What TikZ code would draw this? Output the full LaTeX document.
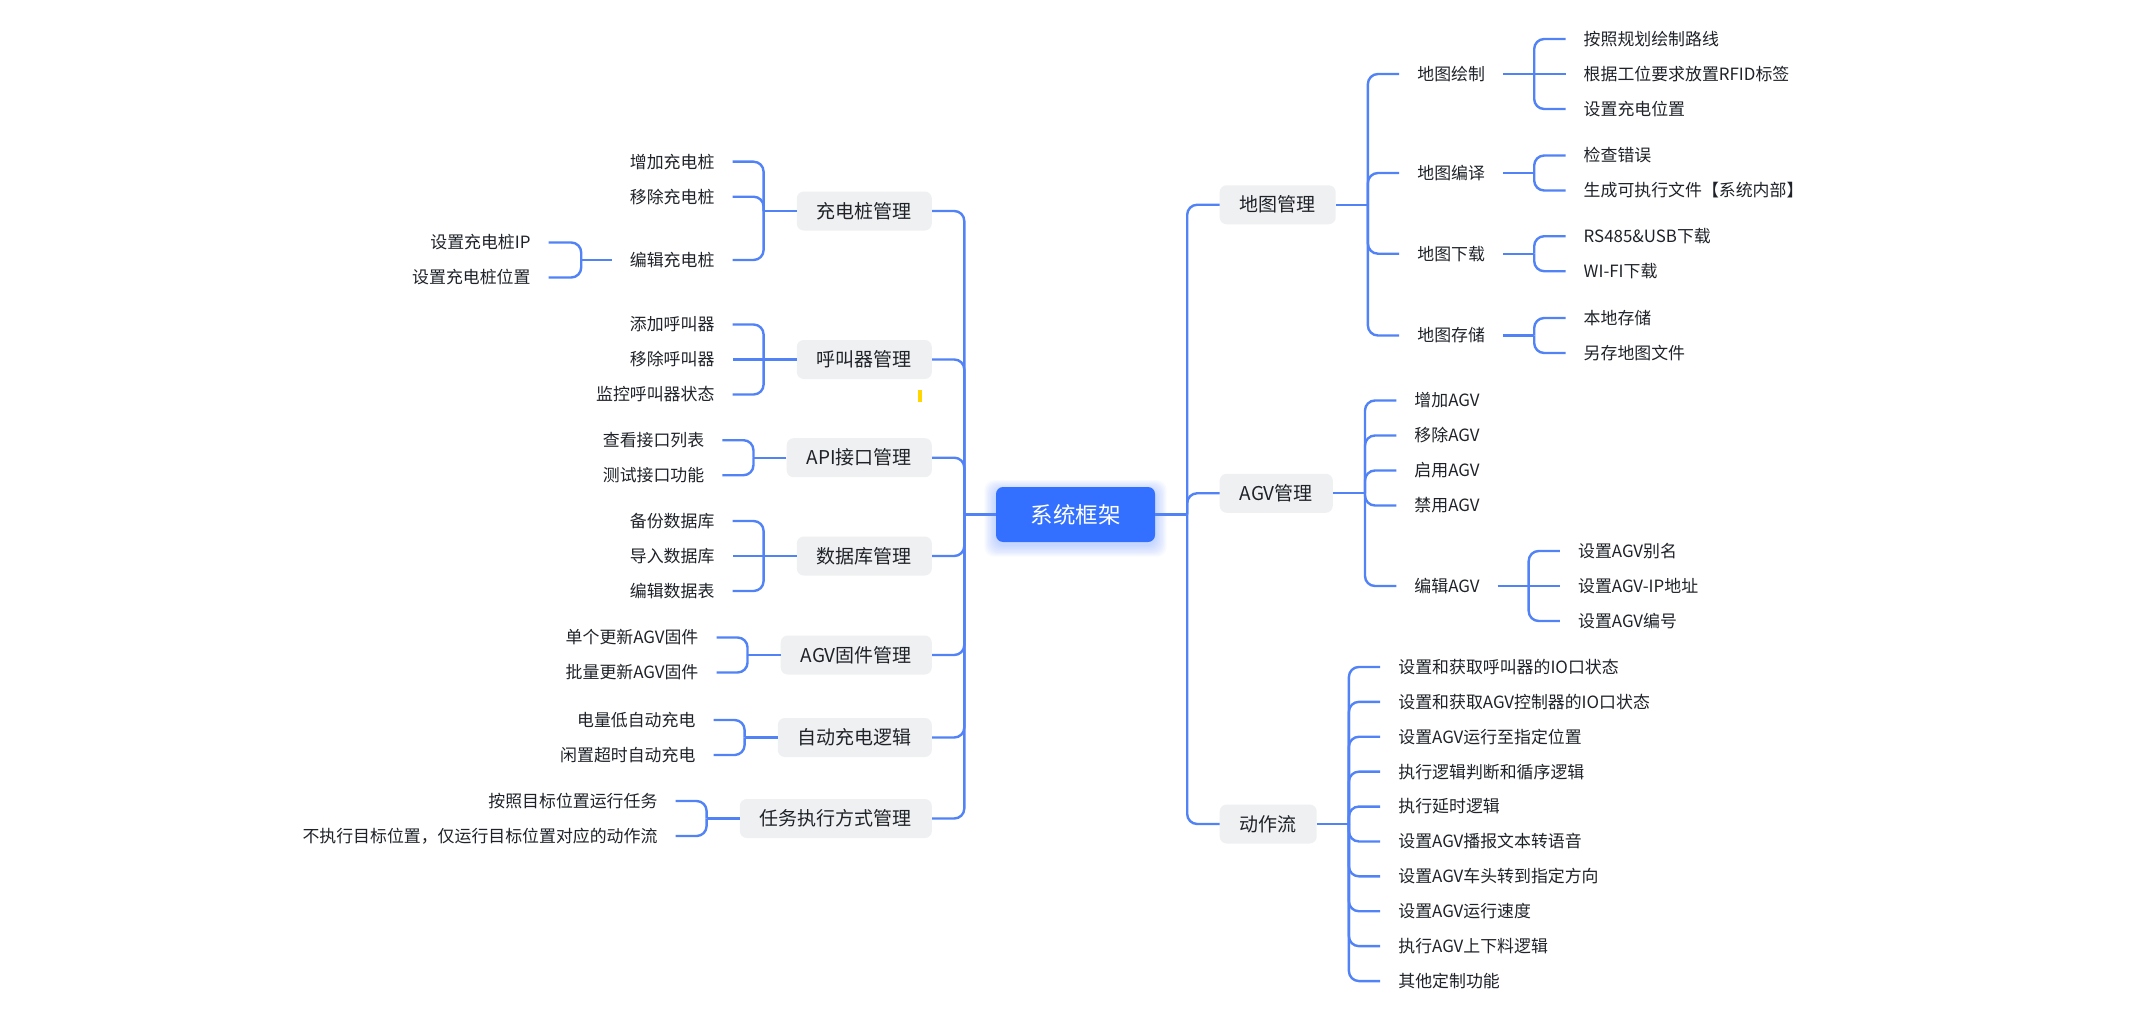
\documentclass[tikz,border=0pt]{standalone}
\usepackage{fontspec}
\setmainfont{Noto Sans CJK SC}
\usetikzlibrary{calc}
\definecolor{lineblue}{RGB}{82,131,246}
\definecolor{rootblue}{RGB}{51,112,255}
\definecolor{boxgray}{RGB}{239,240,241}
\definecolor{txt}{RGB}{31,35,41}
\definecolor{marky}{RGB}{255,214,0}
\begin{document}
\begin{tikzpicture}[x=1pt,y=-1pt,
  conn/.style={draw=lineblue,line width=2.4pt,rounded corners=10pt},
  catbox/.style={fill=boxgray,rounded corners=7pt,inner xsep=20pt,inner ysep=0pt,minimum height=39pt,text=txt,font=\fontsize{19}{23}\selectfont},
  rootbox/.style={fill=rootblue,text=white,rounded corners=7pt,minimum width=159pt,minimum height=55pt,inner sep=0pt,font=\fontsize{22.5}{26}\selectfont},
  leaf/.style={inner xsep=18pt,inner ysep=2pt,text=txt,font=\fontsize{16.9}{20}\selectfont},
  leafL/.style={leaf,anchor=east},
  leafR/.style={leaf,anchor=west},
]
\fill[white] (0,0) rectangle (2139,1014);
\useasboundingbox (0,0) rectangle (2139,1014);

% glow of the root
\foreach \i in {1,...,9}
  \fill[rootblue,opacity=0.03,rounded corners=10pt] (996-\i*1.3,487-\i*1.1+3) rectangle (1155+\i*1.3,542+\i*1.3+3);

\node[rootbox] (root) at (1075.5,514.5) {系统框架};
\coordinate (jL) at ([xshift=-31.5pt]root.west);
\coordinate (jR) at ([xshift=32pt]root.east);
\draw[conn] (root.west) -- (jL);
\draw[conn] (root.east) -- (jR);

% ---------------- left categories
\node[catbox,anchor=east] (c1) at (932,211) {充电桩管理};
\node[catbox,anchor=east] (c2) at (932,359.5) {呼叫器管理};
\node[catbox,anchor=east] (c3) at (932,457.7) {API接口管理};
\node[catbox,anchor=east] (c4) at (932,556) {数据库管理};
\node[catbox,anchor=east] (c5) at (932,655) {AGV固件管理};
\node[catbox,anchor=east] (c6) at (932,737.5) {自动充电逻辑};
\node[catbox,anchor=east] (c7) at (932,818.5) {任务执行方式管理};
\foreach \n in {c1,c2,c3,c4,c5,c6,c7} \draw[conn] (jL) |- (\n.east);

% group 1
\coordinate (b1) at ([xshift=-33pt]c1.west);
\node[leafL] (l1a) at ([xshift=-31pt,yshift=49.3pt]b1) {增加充电桩};
\node[leafL] (l1b) at ([xshift=-31pt,yshift=14.3pt]b1) {移除充电桩};
\node[leafL] (l1c) at ([xshift=-31pt,yshift=-49pt]b1) {编辑充电桩};
\draw[conn] (c1.west) -- (b1);
\foreach \n in {l1a,l1b,l1c} \draw[conn] (b1) |- (\n.east);
\coordinate (b1c) at ([xshift=-30.5pt]l1c.west);
\node[leafL] (l1c1) at ([xshift=-32.5pt,yshift=17.5pt]b1c) {设置充电桩IP};
\node[leafL] (l1c2) at ([xshift=-32.5pt,yshift=-17.5pt]b1c) {设置充电桩位置};
\draw[conn] (l1c.west) -- (b1c);
\foreach \n in {l1c1,l1c2} \draw[conn] (b1c) |- (\n.east);

% group 2
\coordinate (b2) at ([xshift=-33pt]c2.west);
\node[leafL] (l2a) at ([xshift=-31pt,yshift=35pt]b2) {添加呼叫器};
\node[leafL] (l2b) at ([xshift=-31pt]b2) {移除呼叫器};
\node[leafL] (l2c) at ([xshift=-31pt,yshift=-35pt]b2) {监控呼叫器状态};
\draw[conn] (c2.west) -- (b2);
\draw[conn] (b2) -- (l2b.east);
\foreach \n in {l2a,l2c} \draw[conn] (b2) |- (\n.east);

% group 3
\coordinate (b3) at ([xshift=-33pt]c3.west);
\node[leafL] (l3a) at ([xshift=-31pt,yshift=17.5pt]b3) {查看接口列表};
\node[leafL] (l3b) at ([xshift=-31pt,yshift=-17.5pt]b3) {测试接口功能};
\draw[conn] (c3.west) -- (b3);
\foreach \n in {l3a,l3b} \draw[conn] (b3) |- (\n.east);

% group 4
\coordinate (b4) at ([xshift=-33pt]c4.west);
\node[leafL] (l4a) at ([xshift=-31pt,yshift=35pt]b4) {备份数据库};
\node[leafL] (l4b) at ([xshift=-31pt]b4) {导入数据库};
\node[leafL] (l4c) at ([xshift=-31pt,yshift=-35pt]b4) {编辑数据表};
\draw[conn] (c4.west) -- (b4);
\draw[conn] (b4) -- (l4b.east);
\foreach \n in {l4a,l4c} \draw[conn] (b4) |- (\n.east);

% group 5
\coordinate (b5) at ([xshift=-33pt]c5.west);
\node[leafL] (l5a) at ([xshift=-31pt,yshift=17.5pt]b5) {单个更新AGV固件};
\node[leafL] (l5b) at ([xshift=-31pt,yshift=-17.5pt]b5) {批量更新AGV固件};
\draw[conn] (c5.west) -- (b5);
\foreach \n in {l5a,l5b} \draw[conn] (b5) |- (\n.east);

% group 6
\coordinate (b6) at ([xshift=-33pt]c6.west);
\node[leafL] (l6a) at ([xshift=-31pt,yshift=17.5pt]b6) {电量低自动充电};
\node[leafL] (l6b) at ([xshift=-31pt,yshift=-17.5pt]b6) {闲置超时自动充电};
\draw[conn] (c6.west) -- (b6);
\foreach \n in {l6a,l6b} \draw[conn] (b6) |- (\n.east);

% group 7
\coordinate (b7) at ([xshift=-33pt]c7.west);
\node[leafL] (l7a) at ([xshift=-31pt,yshift=17.5pt]b7) {按照目标位置运行任务};
\node[leafL] (l7b) at ([xshift=-31pt,yshift=-17.5pt]b7) {不执行目标位置，仅运行目标位置对应的动作流};
\draw[conn] (c7.west) -- (b7);
\foreach \n in {l7a,l7b} \draw[conn] (b7) |- (\n.east);

% small yellow mark
\fill[marky] (917.7,390) rectangle (922.3,401.7);

% ---------------- right categories
\node[catbox,anchor=west] (r1) at (1219.5,204.75) {地图管理};
\node[catbox,anchor=west] (r2) at (1219.5,493.25) {AGV管理};
\node[catbox,anchor=west] (r3) at (1219.5,824) {动作流};
\foreach \n in {r1,r2,r3} \draw[conn] (jR) |- (\n.west);

% map management
\coordinate (br1) at ([xshift=32pt]r1.east);
\node[leafR] (m1) at ([xshift=31.3pt,yshift=130.75pt]br1) {地图绘制};
\node[leafR] (m2) at ([xshift=31.3pt,yshift=31.75pt]br1) {地图编译};
\node[leafR] (m3) at ([xshift=31.3pt,yshift=-48.95pt]br1) {地图下载};
\node[leafR] (m4) at ([xshift=31.3pt,yshift=-130.75pt]br1) {地图存储};
\draw[conn] (r1.east) -- (br1);
\foreach \n in {m1,m2,m3,m4} \draw[conn] (br1) |- (\n.west);

\coordinate (bm1) at ([xshift=31pt]m1.east);
\node[leafR] (m1a) at ([xshift=31.3pt,yshift=35pt]bm1) {按照规划绘制路线};
\node[leafR] (m1b) at ([xshift=31.3pt]bm1) {根据工位要求放置RFID标签};
\node[leafR] (m1c) at ([xshift=31.3pt,yshift=-35pt]bm1) {设置充电位置};
\draw[conn] (m1.east) -- (bm1);
\draw[conn] (bm1) -- (m1b.west);
\foreach \n in {m1a,m1c} \draw[conn] (bm1) |- (\n.west);

\coordinate (bm2) at ([xshift=31pt]m2.east);
\node[leafR] (m2a) at ([xshift=31.3pt,yshift=17.5pt]bm2) {检查错误};
\node[leafR] (m2b) at ([xshift=31.3pt,yshift=-17.5pt]bm2) {生成可执行文件【系统内部】};
\draw[conn] (m2.east) -- (bm2);
\foreach \n in {m2a,m2b} \draw[conn] (bm2) |- (\n.west);

\coordinate (bm3) at ([xshift=31pt]m3.east);
\node[leafR] (m3a) at ([xshift=31.3pt,yshift=17.5pt]bm3) {RS485\&USB下载};
\node[leafR] (m3b) at ([xshift=31.3pt,yshift=-17.5pt]bm3) {WI-FI下载};
\draw[conn] (m3.east) -- (bm3);
\foreach \n in {m3a,m3b} \draw[conn] (bm3) |- (\n.west);

\coordinate (bm4) at ([xshift=31pt]m4.east);
\node[leafR] (m4a) at ([xshift=31.3pt,yshift=17.5pt]bm4) {本地存储};
\node[leafR] (m4b) at ([xshift=31.3pt,yshift=-17.5pt]bm4) {另存地图文件};
\draw[conn] (m4.east) -- (bm4);
\foreach \n in {m4a,m4b} \draw[conn] (bm4) |- (\n.west);

% AGV management
\coordinate (br2) at ([xshift=32pt]r2.east);
\node[leafR] (g1) at ([xshift=31.3pt,yshift=92.75pt]br2) {增加AGV};
\node[leafR] (g2) at ([xshift=31.3pt,yshift=57.75pt]br2) {移除AGV};
\node[leafR] (g3) at ([xshift=31.3pt,yshift=22.75pt]br2) {启用AGV};
\node[leafR] (g4) at ([xshift=31.3pt,yshift=-12.25pt]br2) {禁用AGV};
\node[leafR] (g5) at ([xshift=31.3pt,yshift=-92.75pt]br2) {编辑AGV};
\draw[conn] (r2.east) -- (br2);
\foreach \n in {g1,g2,g3,g4,g5} \draw[conn] (br2) |- (\n.west);

\coordinate (bg5) at ([xshift=31pt]g5.east);
\node[leafR] (g5a) at ([xshift=31.3pt,yshift=35pt]bg5) {设置AGV别名};
\node[leafR] (g5b) at ([xshift=31.3pt]bg5) {设置AGV-IP地址};
\node[leafR] (g5c) at ([xshift=31.3pt,yshift=-35pt]bg5) {设置AGV编号};
\draw[conn] (g5.east) -- (bg5);
\draw[conn] (bg5) -- (g5b.west);
\foreach \n in {g5a,g5c} \draw[conn] (bg5) |- (\n.west);

% action flow
\coordinate (br3) at ([xshift=32pt]r3.east);
\node[leafR] (a1) at ([xshift=31.3pt,yshift=157.05pt]br3) {设置和获取呼叫器的IO口状态};
\node[leafR] (a2) at ([xshift=31.3pt,yshift=122.15pt]br3) {设置和获取AGV控制器的IO口状态};
\node[leafR] (a3) at ([xshift=31.3pt,yshift=87.25pt]br3) {设置AGV运行至指定位置};
\node[leafR] (a4) at ([xshift=31.3pt,yshift=52.35pt]br3) {执行逻辑判断和循序逻辑};
\node[leafR] (a5) at ([xshift=31.3pt,yshift=17.45pt]br3) {执行延时逻辑};
\node[leafR] (a6) at ([xshift=31.3pt,yshift=-17.45pt]br3) {设置AGV播报文本转语音};
\node[leafR] (a7) at ([xshift=31.3pt,yshift=-52.35pt]br3) {设置AGV车头转到指定方向};
\node[leafR] (a8) at ([xshift=31.3pt,yshift=-87.25pt]br3) {设置AGV运行速度};
\node[leafR] (a9) at ([xshift=31.3pt,yshift=-122.15pt]br3) {执行AGV上下料逻辑};
\node[leafR] (a10) at ([xshift=31.3pt,yshift=-157.05pt]br3) {其他定制功能};
\draw[conn] (r3.east) -- (br3);
\foreach \n in {a1,a2,a3,a4,a5,a6,a7,a8,a9,a10} \draw[conn] (br3) |- (\n.west);
\end{tikzpicture}
\end{document}
